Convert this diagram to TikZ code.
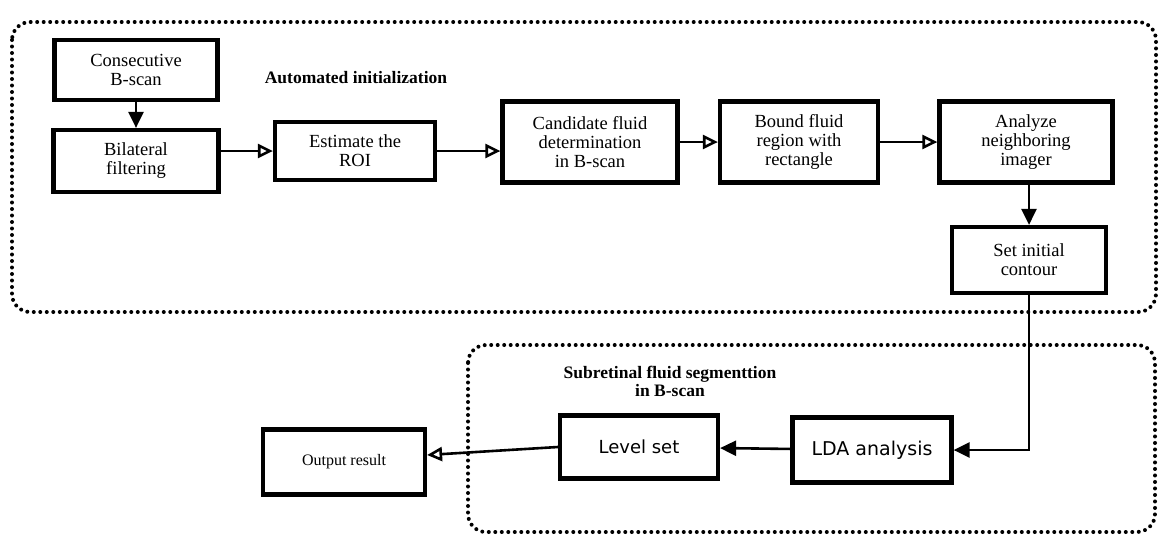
\documentclass[tikz,border=0pt]{standalone}
\usepackage{fontspec}
\setmainfont{Liberation Serif}
\newfontfamily\sansf{DejaVu Sans}
\usetikzlibrary{arrows.meta}
\tikzset{
  stepbox/.style={draw, line width=4.2pt, align=center, inner sep=0pt, font=\fontsize{18.5}{19}\selectfont},
  region/.style={line width=4pt, dash pattern=on 0pt off 6.5pt, line cap=round, rounded corners=18pt},
  conn/.style={line width=2.6pt},
  arrO/.style={conn, -{Triangle[open, length=15pt, width=14pt, line width=2.6pt]}},
  arrF/.style={conn, -{Triangle[length=16pt, width=15pt]}},
  title/.style={font=\bfseries\fontsize{17.5}{18}\selectfont, align=center, inner sep=0pt}
}
\begin{document}
\begin{tikzpicture}[x=1pt,y=-1pt]
\useasboundingbox (0,0) rectangle (1159,536);
% regions
\draw[region] (12,22) rectangle (1156,312);
\draw[region] (468,345) rectangle (1155,532);
\node[title] (t1) at (356,78) {Automated initialization};
\node[title] (t2) at (670,381) {Subretinal fluid segmenttion\\in B-scan};
% boxes
\node[stepbox, minimum width=163pt, minimum height=60pt] (cons) at (136,70) {Consecutive\\B-scan};
\node[stepbox, minimum width=165pt, minimum height=62pt] (bil) at (136,161) {Bilateral\\filtering};
\node[stepbox, minimum width=160pt, minimum height=58pt] (roi) at (355,151) {Estimate the\\ROI};
\node[stepbox, minimum width=175pt, minimum height=81pt] (cand) at (590,142) {Candidate fluid\\determination\\in B-scan};
\node[stepbox, minimum width=158pt, minimum height=81pt] (bound) at (799,142) {Bound fluid\\region with\\rectangle};
\node[stepbox, minimum width=173pt, minimum height=81pt] (anal) at (1026,142) {Analyze\\neighboring\\imager};
\node[stepbox, minimum width=154pt, minimum height=66pt] (set) at (1029,260) {Set initial\\contour};
\node[stepbox, minimum width=159pt, minimum height=65pt, font=\sansf\fontsize{19}{20}\selectfont] (lda) at (872,450) {LDA analysis};
\node[stepbox, minimum width=158pt, minimum height=63pt, font=\sansf\fontsize{18}{20}\selectfont] (lvl) at (639,447) {Level set};
\node[stepbox, minimum width=162pt, minimum height=65pt, font=\fontsize{16}{18}\selectfont] (out) at (344,462) {Output result};
% connectors
\draw[arrF] (cons) -- (bil);
\draw[arrO] (bil.east |- roi.west) -- (roi.west);
\draw[arrO] (roi.east) -- (cand.west |- roi.east);
\draw[arrO] (cand) -- (bound);
\draw[arrO] (bound) -- (anal);
\draw[arrF] (anal.south -| set.north) -- (set.north);
\draw[arrF] (set.south) |- (lda.east);
\draw[arrF] (lda) -- (lvl);
\draw[arrO] (lvl.west) -- ([yshift=7pt]out.east);
\end{tikzpicture}
\end{document}
